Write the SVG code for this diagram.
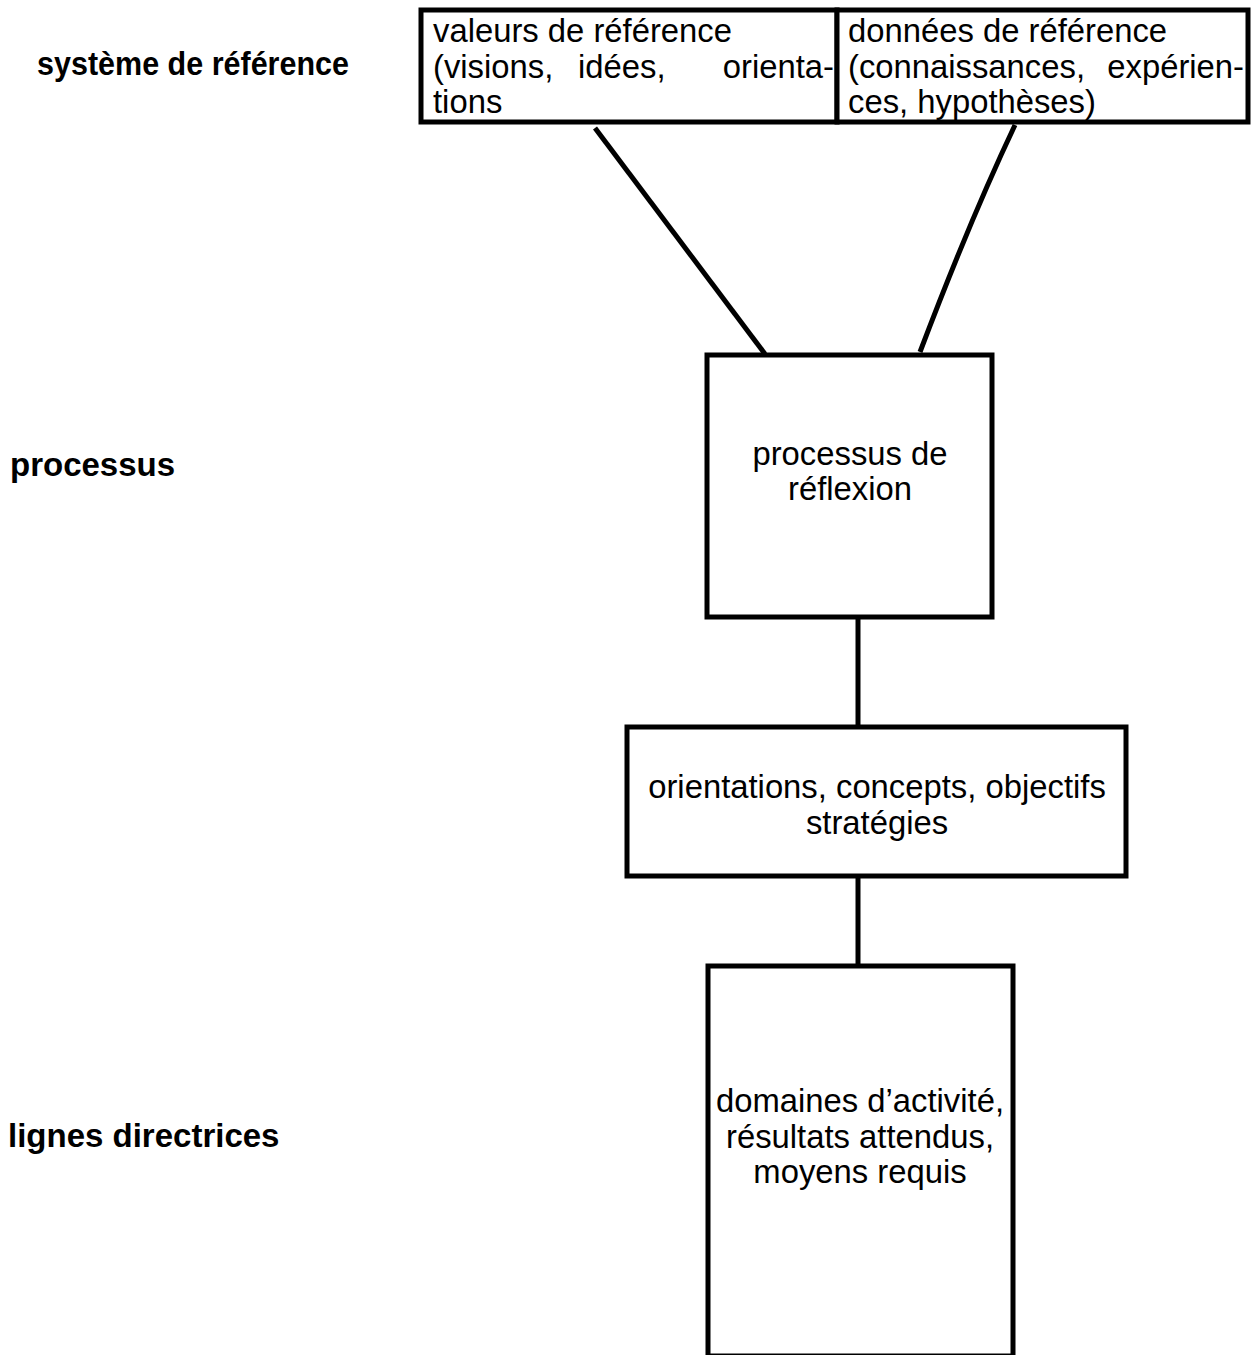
<svg xmlns="http://www.w3.org/2000/svg" width="1252" height="1355" viewBox="0 0 1252 1355">
<style>
.box{fill:#fff;stroke:#000;stroke-width:5}
.con{fill:none;stroke:#000;stroke-width:5}
.t{font-family:"Liberation Sans",Arial,sans-serif;font-size:32.8px;fill:#000}
.c{text-anchor:middle}
.e{text-anchor:end}
.lab{font-family:"Liberation Sans",Arial,sans-serif;font-size:33px;font-weight:bold;fill:#000}
</style>
<rect width="1252" height="1355" fill="#fff"/>
<g id="labels">
<text class="lab" x="37" y="75" textLength="312" lengthAdjust="spacingAndGlyphs">système de référence</text>
<text class="lab" x="10" y="476">processus</text>
<text class="lab" x="8" y="1147">lignes directrices</text>
</g>
<g id="connectors">
<line class="con" x1="595" y1="128" x2="765" y2="354"/>
<path class="con" d="M1015,125 Q970,220 920,352"/>
<line class="con" x1="858" y1="617" x2="858" y2="727"/>
<line class="con" x1="858" y1="876" x2="858" y2="972"/>
</g>
<g id="node-valeurs">
<rect class="box" x="421" y="10" width="416" height="112"/>
<text class="t" x="433" y="42">valeurs de référence</text>
<text class="t" x="433" y="78">(visions,</text>
<text class="t" x="578" y="78">idées,</text>
<text class="t e" x="834" y="78">orienta-</text>
<text class="t" x="433" y="113">tions</text>
</g>
<g id="node-donnees">
<rect class="box" x="837" y="10" width="411" height="112"/>
<text class="t" x="848" y="42">données de référence</text>
<text class="t" x="848" y="78">(connaissances,</text>
<text class="t e" x="1244" y="78">expérien-</text>
<text class="t" x="848" y="113">ces, hypothèses)</text>
</g>
<g id="node-processus">
<rect class="box" x="707" y="355" width="285" height="262"/>
<text class="t c" x="850" y="465">processus de</text>
<text class="t c" x="850" y="500">réflexion</text>
</g>
<g id="node-orientations">
<rect class="box" x="627" y="727" width="499" height="149"/>
<text class="t c" x="877" y="798">orientations, concepts, objectifs</text>
<text class="t c" x="877" y="834">stratégies</text>
</g>
<g id="node-domaines">
<rect class="box" x="708" y="966" width="305" height="390"/>
<text class="t c" x="860" y="1112">domaines d’activité,</text>
<text class="t c" x="860" y="1148">résultats attendus,</text>
<text class="t c" x="860" y="1183">moyens requis</text>
</g>
</svg>
